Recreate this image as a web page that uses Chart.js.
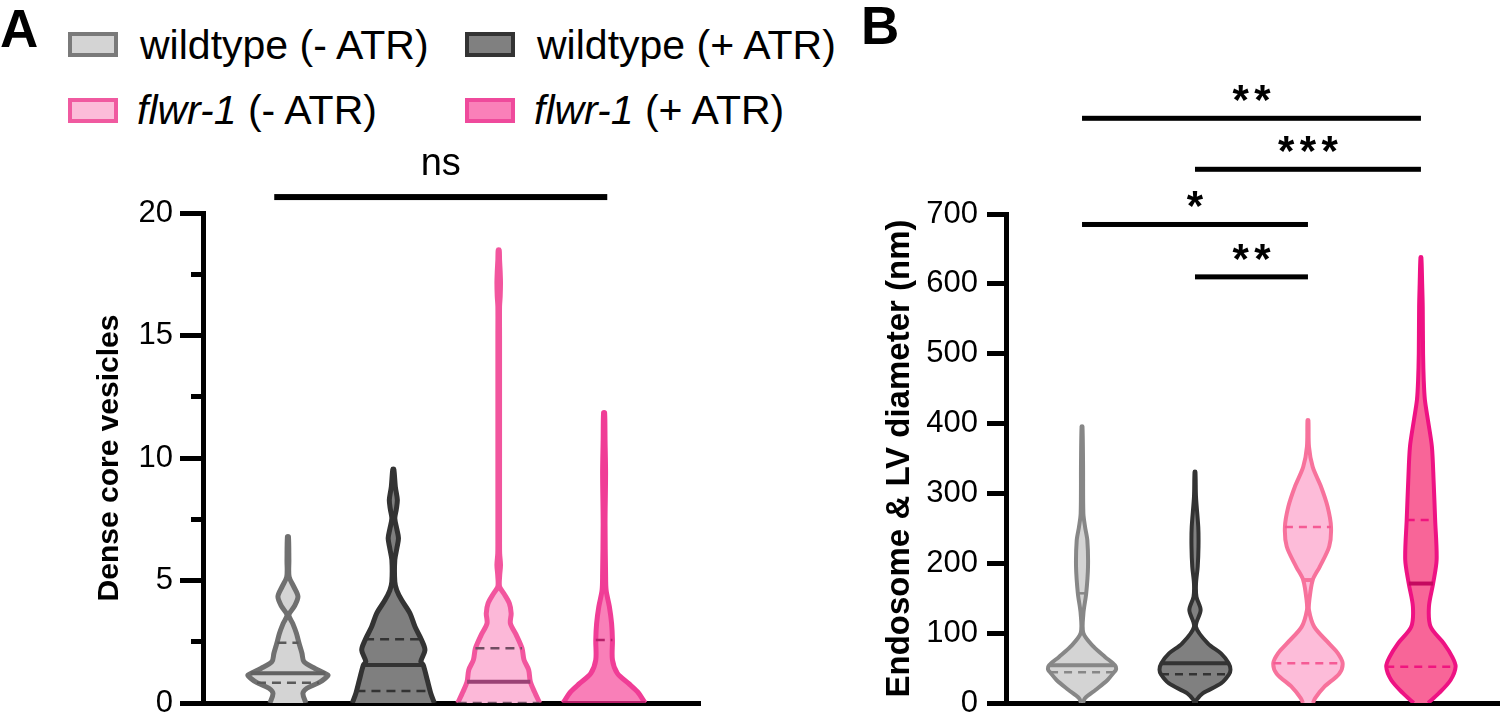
<!DOCTYPE html>
<html>
<head>
<meta charset="utf-8">
<title>Dense core vesicles and endosome diameter</title>
<script src="https://cdn.jsdelivr.net/npm/chart.js@4.4.1/dist/chart.umd.min.js"></script>
<style>
  body { margin: 0; background: #fff; font-family: 'Liberation Sans', Arial, sans-serif; }
  #page { position: relative; width: 1500px; height: 718px; overflow: hidden; background: #fff; }
  #page canvas { position: absolute; left: 0; top: 0; }
  .panel { position: absolute; font-weight: bold; font-size: 53px; line-height: 1; }
  .key { position: absolute; font-size: 41px; line-height: 1; white-space: nowrap; color: #000; }
  .swatch { position: absolute; width: 42px; height: 17px; border: 4px solid; }
</style>
</head>
<body>
<div id="page">
  <div class="panel" style="left:0px; top:2px;">A</div>
  <div class="panel" style="left:861px; top:-1px;">B</div>

  <div class="swatch" style="left:68px; top:32px; background:#d4d4d4; border-color:#7a7a7a;"></div>
  <div class="key" style="left:140px; top:25px;">wildtype (- ATR)</div>
  <div class="swatch" style="left:465px; top:32px; background:#808080; border-color:#333333;"></div>
  <div class="key" style="left:537px; top:25px;">wildtype (+ ATR)</div>
  <div class="swatch" style="left:68px; top:98px; background:#fcbcd9; border-color:#f05aa0;"></div>
  <div class="key" style="left:137px; top:90px;"><i>flwr-1</i> (- ATR)</div>
  <div class="swatch" style="left:465px; top:98px; background:#fa80b9; border-color:#ef4a9c;"></div>
  <div class="key" style="left:534px; top:90px;"><i>flwr-1</i> (+ ATR)</div>

  <canvas id="dcvChart" width="1500" height="718"></canvas>
  <canvas id="endoChart" width="1500" height="718"></canvas>
</div>

<script>
// groups, one violin per slot on the x axis
const groups = ['wildtype (- ATR)', 'wildtype (+ ATR)', 'flwr-1 (- ATR)', 'flwr-1 (+ ATR)'];
const slots = [1, 2, 3, 4];

// A: dense core vesicles, violin outline (value, half width in slot units)
const dcvY1 = [0, 0.39, 0.6, 0.83, 1.0, 1.14, 1.41, 1.69, 2.03, 2.46, 2.84, 3.25, 3.59, 3.93, 4.34, 4.75, 5.16, 5.84, 6.79];
const dcvW1 = [0.171, 0.142, 0.180, 0.294, 0.351, 0.379, 0.256, 0.152, 0.133, 0.104, 0.081, 0.045, 0.009, 0.059, 0.095, 0.055, 0.011, 0.009, 0.005];
const dcvY2 = [0, 0.4, 0.94, 1.55, 1.69, 2.16, 2.57, 3.11, 3.66, 4.2, 4.6, 4.95, 5.84, 6.3, 6.72, 7.1, 7.54, 7.9, 8.29, 8.83, 9.54];
const dcvW2 = [0.389, 0.355, 0.322, 0.284, 0.261, 0.300, 0.268, 0.206, 0.158, 0.079, 0.033, 0.014, 0.014, 0.033, 0.049, 0.033, 0.014, 0.028, 0.038, 0.019, 0.005];
const dcvY3 = [0, 0.46, 0.87, 1.35, 1.76, 2.23, 2.78, 3.25, 3.66, 4.07, 4.48, 4.75, 5.2, 5.63, 6.1, 6.6, 10, 15, 16.18, 16.6, 17.13, 17.6, 18.1, 18.49];
const dcvW3 = [0.389, 0.339, 0.300, 0.284, 0.240, 0.221, 0.166, 0.111, 0.118, 0.101, 0.047, 0.008, 0.009, 0.017, 0.009, 0.008, 0.008, 0.008, 0.008, 0.014, 0.017, 0.014, 0.008, 0.005];
const dcvY4 = [0, 0.46, 0.8, 1.21, 1.76, 2.57, 3.25, 3.93, 4.61, 5.29, 7.33, 9.37, 10.73, 11.85];
const dcvW4 = [0.389, 0.316, 0.232, 0.126, 0.079, 0.079, 0.071, 0.050, 0.019, 0.014, 0.009, 0.014, 0.009, 0.005];

// A: median and quartiles (value, half width)
const dcvMedian = [1.21, 1.55, 0.87, 0];
const dcvMedianW = [0.355, 0.284, 0.300, 0.389];
const dcvQ1 = [0.83, 0.49, 0, 0];
const dcvQ1W = [0.294, 0.35, 0.389, 0.389];
const dcvQ3 = [2.46, 2.6, 2.23, 2.57];
const dcvQ3W = [0.1, 0.268, 0.221, 0.079];

const dcvTicks = [0, 5, 10, 15, 20];
const dcvMinorTicks = [0, 2.5, 5, 7.5, 10, 12.5, 15, 17.5, 20];

// B: endosome & LV diameter (nm), violin outline
const endoY1 = [0, 7, 19, 33, 44, 48, 54, 66, 81, 100, 128, 157, 195, 233, 252, 271, 343, 396];
const endoW1 = [0.009, 0.027, 0.122, 0.226, 0.283, 0.301, 0.292, 0.204, 0.100, 0.012, 0.012, 0.037, 0.053, 0.047, 0.027, 0.012, 0.009, 0.004];
const endoY2 = [0, 4, 14, 28, 41, 48, 57, 71, 85, 109, 133, 152, 171, 195, 224, 252, 295, 331];
const endoW2 = [0.009, 0.012, 0.071, 0.230, 0.301, 0.314, 0.298, 0.230, 0.115, 0.009, 0.050, 0.013, 0.009, 0.024, 0.031, 0.029, 0.009, 0.004];
const endoY3 = [0, 7, 23, 42, 57, 71, 85, 109, 133, 147, 176, 195, 224, 252, 281, 310, 338, 367, 405];
const endoW3 = [0.044, 0.064, 0.144, 0.277, 0.307, 0.265, 0.188, 0.056, 0.009, 0.012, 0.042, 0.104, 0.188, 0.204, 0.174, 0.115, 0.042, 0.009, 0.004];
const endoY4 = [0, 14, 33, 52, 66, 85, 109, 138, 171, 205, 262, 319, 367, 405, 434, 462, 500, 567, 600, 638];
const endoW4 = [0.064, 0.159, 0.263, 0.307, 0.277, 0.204, 0.086, 0.071, 0.108, 0.139, 0.126, 0.112, 0.097, 0.062, 0.035, 0.025, 0.019, 0.016, 0.011, 0.004];

const endoMedian = [54, 57, 176, 171];
const endoMedianW = [0.292, 0.298, 0.042, 0.108];
const endoQ1 = [44, 41, 57, 52];
const endoQ1W = [0.283, 0.301, 0.307, 0.307];
const endoQ3 = [157, null, 252, 262];
const endoQ3W = [0.037, null, 0.204, 0.126];

const endoTicks = [0, 100, 200, 300, 400, 500, 600, 700];

// significance bars: from slot, to slot, height (axis units), label
const dcvSigFrom = [0.87];
const dcvSigTo = [4.03];
const dcvSigLevel = [20.65];
const dcvSigText = ['ns'];

const endoSigFrom = [1, 2, 1, 2];
const endoSigTo = [4, 4, 3, 3];
const endoSigLevel = [837, 764, 685, 610];
const endoSigText = ['**', '***', '*', '**'];

const FONT = "'Liberation Sans', Arial, sans-serif";

// colours per group: fill, outline, median, quartile
const dcvColors = [
    ['#d4d4d4', '#707070', '#626262', '#5a5a5a'],
    ['#7f7f7f', '#333333', '#333333', '#333333'],
    ['#fcb8d8', '#f2559e', '#9a4275', '#704d62'],
    ['#f97fb8', '#f03d96', '#b8206a', '#b8206a']
];
const endoColors = [
    ['#d4d4d4', '#878787', '#878787', '#878787'],
    ['#808080', '#333333', '#333333', '#333333'],
    ['#fdbcd9', '#f7729c', '#f7729c', '#f55b95'],
    ['#f86598', '#ee1283', '#c4095f', '#f0157f']
];

function outline(center, ys, ws) {
    let left = ys.map((y, i) => ({x: center - ws[i], y: y}));
    let right = ys.map((y, i) => ({x: center + ws[i], y: y})).reverse();
    return left.concat(right);
}

function violin(center, ys, ws, fill, line, width) {
    return {
        data: outline(center, ys, ws),
        showLine: true,
        fill: 'shape',
        backgroundColor: fill,
        borderColor: line,
        borderWidth: width,
        borderJoinStyle: 'round',
        pointRadius: 0,
        tension: 0.3,
        order: 2
    };
}

function hline(center, y, w, color, width, dash) {
    return {
        data: [{x: center - w, y: y}, {x: center + w, y: y}],
        showLine: true,
        fill: false,
        borderColor: color,
        borderWidth: width,
        borderDash: dash,
        pointRadius: 0,
        order: 1
    };
}

function buildDatasets(ys, ws, med, medW, q1, q1W, q3, q3W, colors, lw, dash) {
    let sets = [];
    slots.forEach(function(c, i) {
        sets.push(violin(c, ys[i], ws[i], colors[i][0], colors[i][1], lw));
    });
    slots.forEach(function(c, i) {
        sets.push(hline(c, med[i], medW[i], colors[i][2], 4, []));
        sets.push(hline(c, q1[i], q1W[i], colors[i][3], 2.5, dash));
        if (q3[i] !== null) {
            sets.push(hline(c, q3[i], q3W[i], colors[i][3], 2.5, dash));
        }
    });
    return sets;
}

// significance bars and labels, placed through the chart scales
const sigPlugin = {
    id: 'sig',
    afterDraw(chart, args, opts) {
        const ctx = chart.ctx;
        const x = chart.scales.x;
        const y = chart.scales.y;
        ctx.save();
        ctx.fillStyle = '#000';
        ctx.textAlign = 'center';
        ctx.textBaseline = 'alphabetic';
        opts.from.forEach(function(f, i) {
            let x1 = x.getPixelForValue(f);
            let x2 = x.getPixelForValue(opts.to[i]);
            let yy = y.getPixelForValue(opts.level[i]);
            ctx.fillRect(x1, yy - opts.thick / 2, x2 - x1, opts.thick);
            ctx.font = opts.font;
            let txt = opts.text[i];
            let mid = (x1 + x2) / 2;
            if (opts.charStep) {
                let start = mid - (txt.length - 1) * opts.charStep / 2;
                for (let k = 0; k < txt.length; k++) {
                    ctx.fillText(txt[k], start + k * opts.charStep, yy - opts.lift);
                }
            } else {
                ctx.fillText(txt, mid, yy - opts.lift);
            }
        });
        ctx.restore();
    }
};

// fixed axis box, and no extra room for the end tick labels
function fixWidth(width) {
    return function(s) {
        s.width = width;
        s.paddingTop = 0;
        s.paddingBottom = 0;
    };
}

function yAxis(min, max, ticks, size, title, titleSize, titlePad, tickLen, tickPad, width) {
    return {
        type: 'linear',
        position: 'left',
        weight: 1,
        min: min,
        max: max,
        afterBuildTicks: s => { s.ticks = ticks.map(v => ({value: v})); },
        ticks: { color: '#000', font: { family: FONT, size: size }, padding: tickPad },
        grid: { drawOnChartArea: false, drawTicks: true, tickLength: tickLen, tickWidth: 5, tickColor: '#000' },
        border: { display: true, width: 5, color: '#000' },
        title: {
            display: true,
            text: title,
            color: '#000',
            font: { family: FONT, size: titleSize, weight: 'bold' },
            padding: { top: titlePad, bottom: 0 }
        },
        afterFit: fixWidth(width)
    };
}

function xAxis(min, max) {
    return {
        type: 'linear',
        min: min,
        max: max,
        ticks: { display: false },
        grid: { display: false },
        border: { display: true, width: 5, color: '#000' },
        afterFit: s => { s.height = 15; s.paddingLeft = 0; s.paddingRight = 0; }
    };
}

const common = {
    responsive: false,
    animation: false,
    events: [],
    plugins: { legend: { display: false }, tooltip: { enabled: false } }
};

// Panel A
new Chart(document.getElementById('dcvChart').getContext('2d'), {
    type: 'scatter',
    data: {
        datasets: buildDatasets([dcvY1, dcvY2, dcvY3, dcvY4], [dcvW1, dcvW2, dcvW3, dcvW4],
            dcvMedian, dcvMedianW, dcvQ1, dcvQ1W, dcvQ3, dcvQ3W, dcvColors, 5, [9, 6])
    },
    options: Object.assign({}, common, {
        layout: { padding: { left: 60, top: 213, right: 800, bottom: 0 } },
        scales: {
            x: xAxis(0.194, 4.91),
            y: yAxis(0, 20, dcvTicks, 31, 'Dense core vesicles', 30, 32, 23, 7, 143),
            yMinor: {
                type: 'linear',
                position: 'left',
                weight: 0,
                min: 0,
                max: 20,
                afterBuildTicks: s => { s.ticks = dcvMinorTicks.map(v => ({value: v})); },
                ticks: { display: false },
                grid: { drawOnChartArea: false, drawTicks: true, tickLength: 12, tickWidth: 5, tickColor: '#000' },
                border: { display: false },
                afterFit: fixWidth(0)
            }
        },
        plugins: Object.assign({}, common.plugins, {
            sig: { from: dcvSigFrom, to: dcvSigTo, level: dcvSigLevel, text: dcvSigText,
                   thick: 6, font: '38px ' + FONT, lift: 22, charStep: 0 }
        })
    }),
    plugins: [sigPlugin]
});

// Panel B
new Chart(document.getElementById('endoChart').getContext('2d'), {
    type: 'scatter',
    data: {
        datasets: buildDatasets([endoY1, endoY2, endoY3, endoY4], [endoW1, endoW2, endoW3, endoW4],
            endoMedian, endoMedianW, endoQ1, endoQ1W, endoQ3, endoQ3W, endoColors, 4, [8, 6])
    },
    options: Object.assign({}, common, {
        layout: { padding: { left: 850, top: 214, right: 0, bottom: 0 } },
        scales: {
            x: xAxis(0.327, 4.70),
            y: yAxis(0, 700, endoTicks, 31, 'Endosome & LV diameter (nm)', 33, 30, 19, 9, 156)
        },
        plugins: Object.assign({}, common.plugins, {
            sig: { from: endoSigFrom, to: endoSigTo, level: endoSigLevel, text: endoSigText,
                   thick: 5, font: 'bold 42px ' + FONT, lift: 4, charStep: 21.7 }
        })
    }),
    plugins: [sigPlugin]
});
</script>
</body>
</html>
